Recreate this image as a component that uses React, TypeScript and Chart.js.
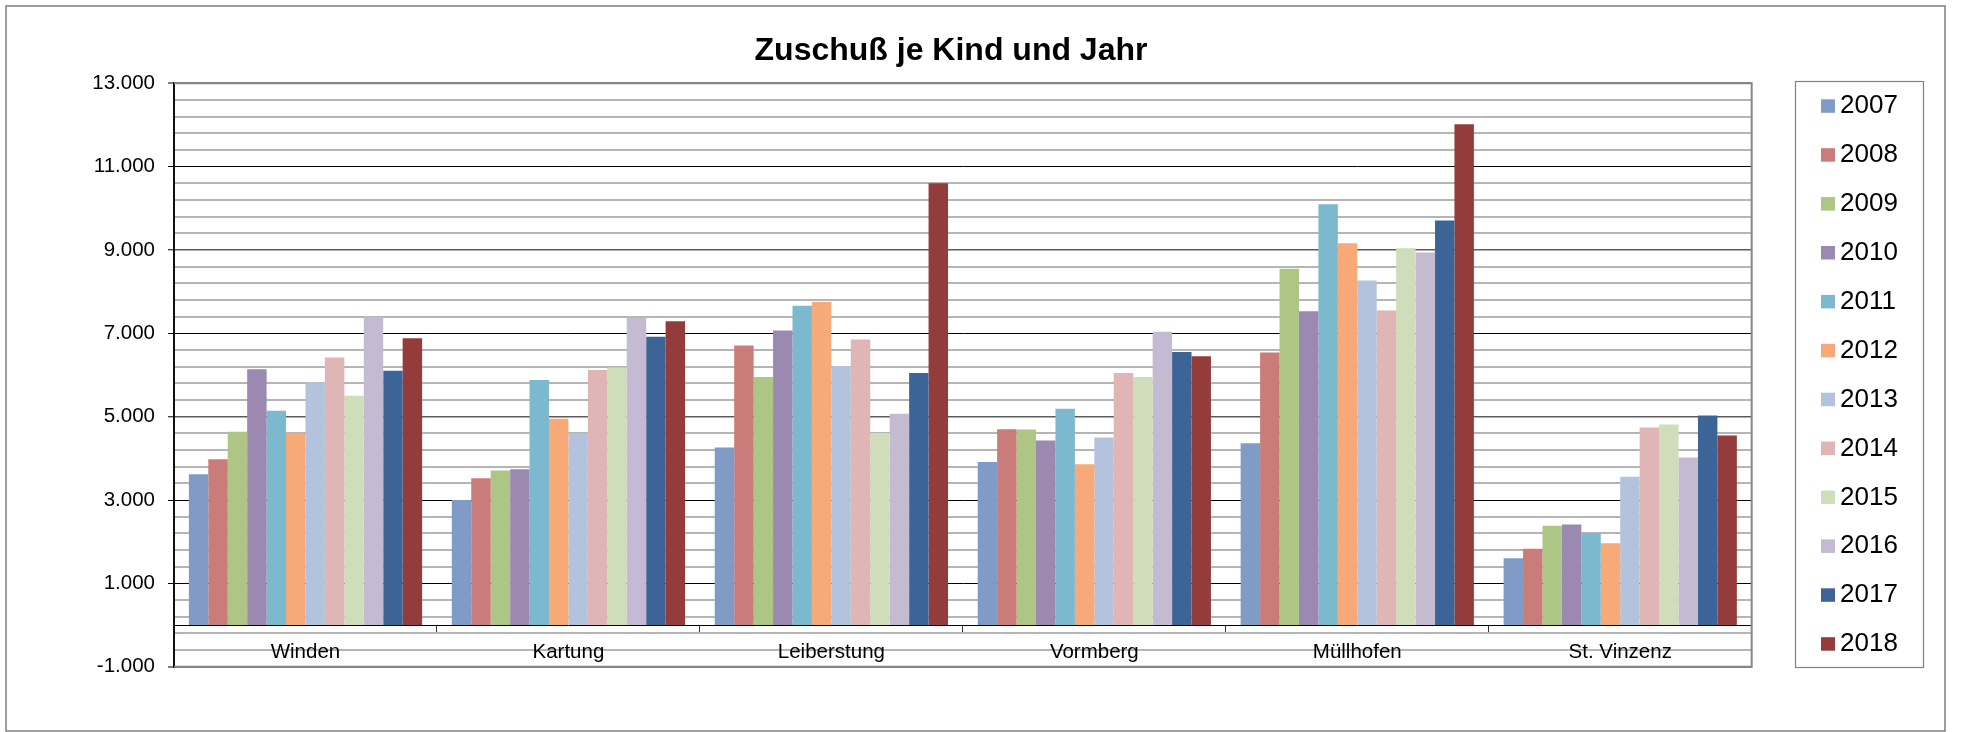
import React, { useEffect, useRef } from "react";
import { Chart, registerables } from "chart.js";

Chart.register(...registerables);

const title = "Zuschuß je Kind und Jahr";
const categories = ["Winden", "Kartung", "Leiberstung", "Vormberg", "Müllhofen", "St. Vinzenz"];
const years = ["2007", "2008", "2009", "2010", "2011", "2012", "2013", "2014", "2015", "2016", "2017", "2018"];

const v2007 = [3620, 3000, 4260, 3910, 4360, 1600];
const v2008 = [3980, 3520, 6710, 4700, 6540, 1830];
const v2009 = [4640, 3710, 5950, 4690, 8550, 2380];
const v2010 = [6140, 3740, 7070, 4430, 7530, 2410];
const v2011 = [5140, 5880, 7660, 5190, 10100, 2200];
const v2012 = [4600, 4950, 7750, 3860, 9160, 1960];
const v2013 = [5820, 4600, 6210, 4500, 8270, 3560];
const v2014 = [6420, 6120, 6850, 6050, 7550, 4740];
const v2015 = [5500, 6180, 4610, 5950, 9040, 4810];
const v2016 = [7400, 7380, 5070, 7040, 8940, 4020];
const v2017 = [6100, 6920, 6050, 6550, 9710, 5030];
const v2018 = [6880, 7290, 10600, 6450, 12020, 4550];

const seriesValues = [v2007, v2008, v2009, v2010, v2011, v2012, v2013, v2014, v2015, v2016, v2017, v2018];
const seriesColors = [
  "#7f9bc6", "#c97c7a", "#adc585", "#9b89b2", "#7db9ce", "#f7aa77",
  "#b4c3dd", "#dfb5b5", "#cfddba", "#c4bad1", "#3d6497", "#943b3b",
];

const yMin = -1000;
const yMax = 13000;
const yStep = 400;
const yLabelStep = 2000;

const FONT = "'Liberation Sans', Arial, sans-serif";

function fmt(v: number): string {
  const n = Math.round(v);
  const sign = n < 0 ? "-" : "";
  const s = String(Math.abs(n));
  let out = "";
  for (let i = 0; i < s.length; i++) {
    if (i > 0 && (s.length - i) % 3 === 0) out += ".";
    out += s[i];
  }
  return sign + out;
}

function isMajor(v: number) {
  return Math.round(v - yMin) % yLabelStep === 0;
}

const decorPlugin = {
  id: "decor",
  beforeDraw(chart: any) {
    const ctx = chart.ctx;
    ctx.save();
    ctx.fillStyle = "#ffffff";
    ctx.fillRect(0, 0, chart.width, chart.height);
    ctx.restore();
  },
  beforeDatasetsDraw(chart: any) {
    const { ctx, chartArea } = chart;
    ctx.save();
    ctx.strokeStyle = "#868686";
    ctx.lineWidth = 2;
    ctx.beginPath();
    ctx.moveTo(chartArea.left, chartArea.top);
    ctx.lineTo(chartArea.right, chartArea.top);
    ctx.lineTo(chartArea.right, chartArea.bottom);
    ctx.lineTo(chartArea.left, chartArea.bottom);
    ctx.stroke();
    ctx.restore();
  },
  afterDraw(chart: any) {
    const ctx = chart.ctx;
    ctx.save();
    // title
    ctx.fillStyle = "#000";
    ctx.font = `bold 32px ${FONT}`;
    ctx.textAlign = "center";
    ctx.textBaseline = "alphabetic";
    ctx.fillText(title, 951, 60);

    // legend box
    ctx.strokeStyle = "#808080";
    ctx.lineWidth = 1.2;
    ctx.strokeRect(1795.5, 81.5, 128, 586);
    const ds = chart.data.datasets;
    ctx.font = `26px ${FONT}`;
    ctx.textAlign = "left";
    for (let i = 0; i < ds.length; i++) {
      const yTop = 99.3 + i * 48.9;
      ctx.fillStyle = ds[i].backgroundColor;
      ctx.fillRect(1821, yTop, 14, 13.5);
      ctx.fillStyle = "#000";
      ctx.fillText(ds[i].label, 1840, 113.3 + i * 48.9);
    }

    // outer border
    ctx.strokeStyle = "#7f7f7f";
    ctx.lineWidth = 1.5;
    ctx.strokeRect(6, 6, 1939, 725);
    ctx.restore();
  },
};

export default function App() {
  const ref = useRef<HTMLCanvasElement>(null);

  useEffect(() => {
    const canvas = ref.current;
    if (!canvas) return;
    const chart = new Chart(canvas, {
      type: "bar",
      data: {
        labels: categories,
        datasets: years.map((y, i) => ({
          label: y,
          data: seriesValues[i],
          backgroundColor: seriesColors[i],
          borderWidth: 0,
          barPercentage: 1,
          categoryPercentage: 0.887,
        })),
      },
      options: {
        animation: false,
        responsive: false,
        devicePixelRatio: 1,
        layout: { padding: { left: 0, top: 83.3, right: 209.3, bottom: 65.3 } },
        plugins: {
          legend: { display: false },
          title: { display: false },
          tooltip: { enabled: false },
        },
        scales: {
          x: {
            position: { y: 0 } as any,
            border: { display: true, color: "#000", width: 1 },
            grid: {
              display: true,
              drawOnChartArea: false,
              drawTicks: true,
              tickLength: 6,
              color: "#000",
              tickColor: "#333",
              lineWidth: 1,
              offset: true,
            },
            ticks: {
              color: "#000",
              font: { family: FONT, size: 20.5 },
              padding: 9,
              maxRotation: 0,
              autoSkip: false,
            },
          },
          y: {
            min: yMin,
            max: yMax,
            afterFit: (scale: any) => {
              scale.width = 174;
            },
            border: { display: true, color: "#111", width: 2 },
            grid: {
              drawTicks: true,
              tickLength: 6,
              color: (c: any) => {
                const v = c.tick ? c.tick.value : 0;
                if (v === yMax || v === yMin) return "#868686";
                if (isMajor(v)) return v === 9000 || v === 5000 ? "#5c5c5c" : "#000";
                return "#b5b5b5";
              },
              lineWidth: (c: any) => {
                const v = c.tick ? c.tick.value : 0;
                if (v === yMax || v === yMin) return 2;
                if (isMajor(v)) return v === 9000 || v === 5000 ? 1.5 : 1;
                return 2;
              },
              tickColor: (c: any) => {
                const v = c.tick ? c.tick.value : 0;
                return isMajor(v) ? "#000" : "rgba(0,0,0,0)";
              },
              tickWidth: 1,
            },
            ticks: {
              stepSize: yStep,
              autoSkip: false,
              color: "#000",
              padding: 13,
              font: { family: FONT, size: 20.5 },
              callback: (value: any) => (isMajor(Number(value)) ? fmt(Number(value)) : ""),
            },
          },
        },
      },
      plugins: [decorPlugin],
    });
    return () => chart.destroy();
  }, []);

  return (
    <div style={{ position: "absolute", left: 0, top: 0, width: 1961, height: 732 }}>
      <canvas ref={ref} width={1961} height={732} style={{ display: "block", width: 1961, height: 732 }} />
    </div>
  );
}
